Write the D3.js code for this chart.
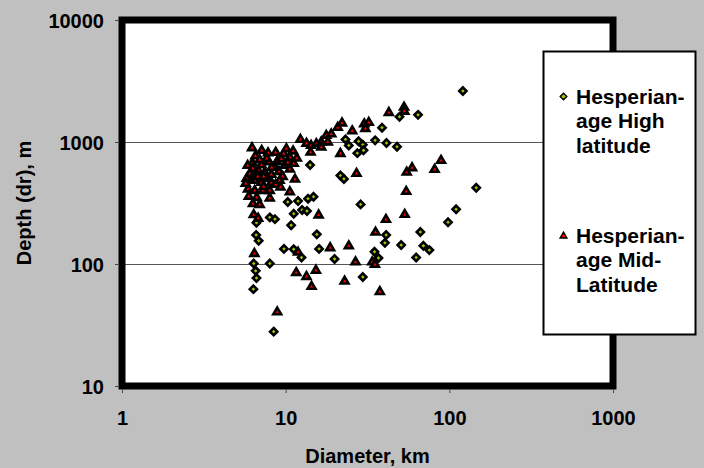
<!DOCTYPE html>
<html>
<head>
<meta charset="utf-8">
<script src="https://cdn.jsdelivr.net/npm/d3@7"></script>
<style>
  body { margin: 0; background: #c0c0c0; }
  svg text { font-family: 'Liberation Sans', Arial, sans-serif; font-weight: bold; fill: #000; }
</style>
</head>
<body>
<svg id="chart" width="704" height="468"></svg>
<script>
/* crater depth vs diameter, log-log scatter */

var xTicks = [1, 10, 100, 1000],
    yTicks = [10, 100, 1000, 10000],
    gridLines = [100, 1000];

// Hesperian-age High latitude
var highDiameter = [14.1, 21.6, 22.7, 10.3, 11.9, 13.7, 14.8, 11.2, 12.6, 13.5,
                    8.0, 8.6, 6.63, 10.8, 15.5, 6.6, 6.84, 9.76, 11.2, 12.5,
                    16.0, 19.9, 6.38, 8.0, 6.56, 6.63, 6.35, 8.45, 38.8, 49.6,
                    64.4, 121, 23.2, 24.3, 27.9, 29.6, 27.4, 29.9, 35.2, 41.3,
                    47.9, 28.7, 41.1, 40.4, 146, 110, 98.2, 66.5, 50.8, 69.4,
                    75.5, 62.7, 34.9, 36.9, 29.6];
var highDepth = [648, 531, 498, 322, 328, 343, 356, 258, 277, 272,
                 241, 233, 218, 208, 175, 173, 155, 133, 132, 113,
                 133, 110, 101, 101, 87.9, 76.8, 62.2, 27.9, 1310, 1610,
                 1670, 2620, 1050, 936, 1015, 950, 810, 855, 1032, 981,
                 915, 308, 173, 149, 422, 281, 220, 183, 143, 141,
                 130, 113, 126, 112, 78.2];

// Hesperian-age Mid-Latitude
var midDiameter = [6.23, 6.54, 7.8, 8.69, 10.1, 11.1, 10.6, 11.7, 7.11, 6.26,
                   7.91, 8.85, 9.86, 10.6, 6.03, 6.79, 7.45, 8.18, 9.1, 6.47,
                   7.11, 8.18, 5.89, 6.47, 7.28, 6.09, 8.69, 7.63, 8.57, 9.41,
                   6.94, 5.86, 5.78, 5.95, 6.65, 7.34, 9.59, 10.3, 8.22, 6.75,
                   9.72, 7.14, 5.70, 6.30, 7.66, 9.19, 11.2, 7.99, 7.34, 11.4,
                   10.6, 7.99, 6.94, 6.31, 15.9, 6.38, 6.79, 6.44, 11.9, 18.7,
                   11.6, 13.4, 15.3, 14.4, 8.88, 9.29, 14.2, 12.3, 13.4, 14.3,
                   15.4, 16.5, 17.7, 19.0, 18.1, 20.8, 22.1, 25.5, 30.2, 32.2,
                   42.7, 16.5, 21.6, 27.1, 41.0, 35.4, 30.7, 52.9, 53.1, 54.9,
                   59.2, 81.3, 89.0, 54.5, 53.4, 24.3, 26.7, 33.8, 35.1, 22.9,
                   37.6];
var midDepth = [905, 775, 822, 830, 888, 850, 758, 744, 656, 680,
                692, 698, 648, 604, 553, 589, 569, 547, 578, 488,
                471, 471, 415, 404, 404, 488, 453, 505, 628, 735,
                721, 648, 507, 361, 354, 436, 526, 685, 624, 526,
                812, 860, 462, 612, 739, 488, 673, 404, 526, 500,
                394, 350, 310, 315, 254, 256, 239, 123, 126, 137,
                85.8, 79.7, 89.6, 66.0, 40.8, 430, 833, 1058, 983, 945,
                977, 1008, 1141, 1174, 1008, 1330, 1444, 1245, 1420, 1459,
                1760, 915, 812, 557, 234, 184, 1300, 1945, 1800, 571,
                620, 601, 712, 397, 257, 142, 105, 105, 100, 73,
                59.9];

var legendItems = [
  { name: ['Hesperian-', 'age High', 'latitude'], shape: 'diamond' },
  { name: ['Hesperian-', 'age Mid-', 'Latitude'], shape: 'triangle' }
];

var plot = { left: 122, right: 613, top: 20, bottom: 386 };

var svg = d3.select('#chart');

var x = d3.scaleLog().domain([1, 1000]).range([plot.left, plot.right]);
var y = d3.scaleLog().domain([10, 10000]).range([plot.bottom, plot.top]);

function diamond(h) {
  return 'M0,' + (-h) + 'L' + h + ',0L0,' + h + 'L' + (-h) + ',0Z';
}
function triangle(s) {
  return 'M0,' + (-s) + 'L' + s + ',' + (s * 0.72) + 'L' + (-s) + ',' + (s * 0.72) + 'Z';
}

svg.append('rect')
  .attr('width', 704).attr('height', 468)
  .attr('fill', '#c0c0c0');

svg.append('rect')
  .attr('x', plot.left).attr('y', plot.top)
  .attr('width', plot.right - plot.left)
  .attr('height', plot.bottom - plot.top)
  .attr('fill', '#fff');

svg.append('g').selectAll('line')
  .data(gridLines)
  .enter().append('line')
    .attr('x1', plot.left).attr('x2', plot.right)
    .attr('y1', function(d) { return Math.round(y(d)) + 0.5; })
    .attr('y2', function(d) { return Math.round(y(d)) + 0.5; })
    .attr('stroke', '#555')
    .attr('stroke-width', 1);

svg.append('rect')
  .attr('x', plot.left).attr('y', plot.top)
  .attr('width', plot.right - plot.left)
  .attr('height', plot.bottom - plot.top)
  .attr('fill', 'none')
  .attr('stroke', '#000')
  .attr('stroke-width', 7);

// points
svg.append('g').selectAll('path')
  .data(highDiameter)
  .enter().append('path')
    .attr('d', diamond(3.6))
    .attr('transform', function(d, i) {
      return 'translate(' + x(d) + ',' + y(highDepth[i]) + ')';
    })
    .attr('fill', '#99cc00')
    .attr('stroke', '#000')
    .attr('stroke-width', 2.6);

svg.append('g').selectAll('path')
  .data(midDiameter)
  .enter().append('path')
    .attr('d', triangle(3.9))
    .attr('transform', function(d, i) {
      return 'translate(' + x(d) + ',' + y(midDepth[i]) + ')';
    })
    .attr('fill', '#ff0000')
    .attr('stroke', '#000')
    .attr('stroke-width', 2.6);

// axes
var xAxis = svg.append('g')
  .attr('transform', 'translate(0,' + (plot.bottom + 3.5) + ')')
  .call(d3.axisBottom(x).tickValues(xTicks).tickFormat(d3.format('d')).tickSize(3.5));
xAxis.select('.domain').remove();
xAxis.selectAll('line').attr('stroke', '#444');
xAxis.selectAll('text')
  .attr('y', 35.5).attr('dy', null)
  .style('font-size', '20px');

var yAxis = svg.append('g')
  .attr('transform', 'translate(' + (plot.left - 3.5) + ',0)')
  .call(d3.axisLeft(y).tickValues(yTicks).tickFormat(d3.format('d')).tickSize(3.5));
yAxis.select('.domain').remove();
yAxis.selectAll('line').attr('stroke', '#444');
yAxis.selectAll('text')
  .attr('x', -14.5).attr('dy', '0.36em')
  .style('font-size', '20px');

svg.append('text')
  .attr('x', (plot.left + plot.right) / 2)
  .attr('y', 463)
  .attr('text-anchor', 'middle')
  .style('font-size', '20px')
  .text('Diameter, km');

svg.append('text')
  .attr('transform', 'translate(30.5,' + ((plot.top + plot.bottom) / 2) + ') rotate(-90)')
  .attr('text-anchor', 'middle')
  .style('font-size', '20px')
  .text('Depth (dr), m');

// legend
var legend = svg.append('g');
legend.append('rect')
  .attr('x', 543.5).attr('y', 51.5)
  .attr('width', 152).attr('height', 283)
  .attr('fill', '#fff')
  .attr('stroke', '#000')
  .attr('stroke-width', 2);

var item = legend.selectAll('g.item')
  .data(legendItems)
  .enter().append('g')
    .attr('class', 'item')
    .attr('transform', function(d, i) { return 'translate(0,' + (i * 139) + ')'; });

item.append('path')
  .attr('d', function(d) { return d.shape == 'diamond' ? diamond(3.3) : triangle(3.4); })
  .attr('transform', 'translate(563.5,96.5)')
  .attr('fill', function(d) { return d.shape == 'diamond' ? '#99cc00' : '#ff0000'; })
  .attr('stroke', '#000')
  .attr('stroke-width', 1.4);

item.append('text')
  .style('font-size', '21px')
  .selectAll('tspan')
  .data(function(d) { return d.name; })
  .enter().append('tspan')
    .attr('x', 576)
    .attr('y', function(d, i) { return 103.5 + i * 24.5; })
    .text(function(d) { return d; });
</script>
</body>
</html>
